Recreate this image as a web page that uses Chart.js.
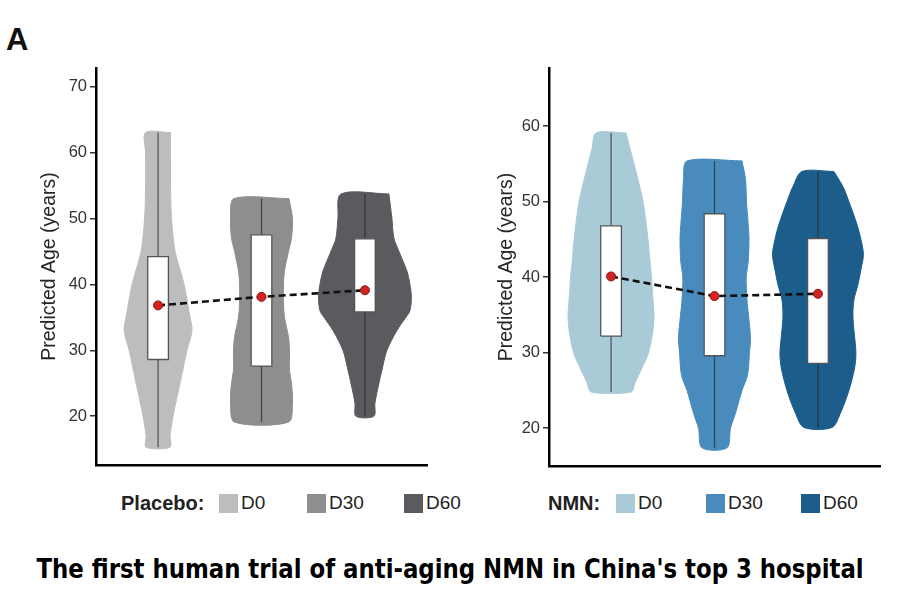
<!DOCTYPE html>
<html lang="en">
<head>
  <meta charset="UTF-8" />
  <title>NMN trial - predicted age</title>
  <script src="https://cdn.jsdelivr.net/npm/chart.js"></script>
  <style>
    body { margin: 0; background: #fff; font-family: "Liberation Sans", Arial, sans-serif; }
    #page { position: relative; width: 900px; height: 608px; overflow: hidden; }
    canvas { position: absolute; top: 0; }
    .panel-label { position: absolute; left: 6px; top: 22px; font-size: 31px; font-weight: bold; color: #111; }
    .legend { position: absolute; top: 492px; font-size: 19px; color: #222; }
    .legend .lab { position: absolute; top: 0; font-weight: bold; font-size: 20px; white-space: nowrap; }
    .legend .sw { position: absolute; top: 2px; width: 19px; height: 19px; }
    .legend .txt { position: absolute; top: 0; }
    .caption { position: absolute; left: 0; width: 900px; top: 553px; text-align: center;
      font-family: "Liberation Sans Narrow", "DejaVu Sans Condensed", sans-serif; font-weight: bold; font-size: 27px; color: #000;
      transform: scaleX(0.94); transform-origin: 451px 0; }
  </style>
</head>
<body>
<div id="page">
  <div class="panel-label">A</div>
  <canvas id="placebo" width="450" height="480" style="left:0"></canvas>
  <canvas id="nmn" width="450" height="480" style="left:450px"></canvas>
  <div class="legend" id="legPlacebo"></div>
  <div class="legend" id="legNmn"></div>
  <div class="caption">The first human trial of anti-aging NMN in China's top 3 hospital</div>
</div>

<script>
  const groups = ['D0', 'D30', 'D60'];

  // Placebo: violin profiles (age level -> density width), box quartiles, means
  const placeboLevels = [
    [63, 60, 55, 50, 45, 40, 35, 33, 30, 25, 20, 17, 15.3],
    [53, 50, 47, 45, 42, 40, 37, 35, 32, 30, 27, 25, 22, 19.1],
    [53.7, 50, 47, 45, 42, 40, 38, 36, 35, 33, 30, 27, 25, 22, 20]
  ];
  const placeboDensity = [
    [12.5, 12.5, 12.5, 13.5, 17, 26, 32, 34, 29, 22, 15, 12, 12],
    [27.5, 31, 30, 27, 23, 22, 22, 23, 27, 28, 28, 30, 31, 27],
    [24, 27, 29, 34, 42, 45, 46.5, 45, 41, 32, 22, 17, 14, 10, 9]
  ];
  const placeboQ1 = [28.6, 27.6, 35.8];
  const placeboQ3 = [44.2, 47.5, 46.9];
  const placeboMean = [36.8, 38.1, 39.1];
  const placeboTicks = [20, 30, 40, 50, 60, 70];

  // NMN
  const nmnLevels = [
    [59.1, 57, 55, 50, 45, 42, 40, 37, 35, 33, 30, 28, 26, 24.8],
    [55.4, 53, 50, 47, 45, 42, 40, 37, 35, 32, 30, 27, 25, 22, 20, 17.4],
    [54, 52, 50, 47, 45, 43, 41, 39, 37, 35, 33, 30, 28, 25, 22, 20.1]
  ];
  const nmnDensity = [
    [15, 19, 23, 32, 37, 39, 40.5, 42, 43, 42, 37.5, 31, 24, 20],
    [27.5, 31, 32, 33.7, 34.5, 33.7, 31.7, 32.5, 34, 36, 35, 33, 27.5, 21, 16, 12.5],
    [16, 25, 31, 39, 43, 45.5, 43, 40, 36, 35, 36, 38, 36.7, 31, 22.5, 14]
  ];
  const nmnQ1 = [32.2, 29.6, 28.6];
  const nmnQ3 = [46.8, 48.4, 45.1];
  const nmnMean = [40.1, 37.5, 37.8];
  const nmnTicks = [20, 30, 40, 50, 60];

  const placeboColors = ['#bdbdbf', '#8e8e91', '#5a5b5e'];
  const nmnColors = ['#a9cbd8', '#4a8bbd', '#1c5d8c'];

  const DENS_TO_X = 1 / 103.5;   // density width -> x units
  const BOX_HALF = 0.1;

  function violinShape(c, levels, dens) {
    const right = levels.map((y, i) => ({ x: c + dens[i] * DENS_TO_X, y }));
    const left = levels.map((y, i) => ({ x: c - dens[i] * DENS_TO_X, y })).reverse();
    return right.concat(left, [right[0]]);
  }

  function buildPanel(id, p) {
    const datasets = [];
    groups.forEach((g, i) => {
      const c = i + 1;
      const lv = p.levels[i];
      datasets.push({
        data: violinShape(c, lv, p.density[i]),
        showLine: true, fill: 'shape', tension: 0.3,
        backgroundColor: p.colors[i], borderColor: p.colors[i], borderWidth: 1,
        pointRadius: 0, order: 10
      });
      datasets.push({
        data: [{ x: c, y: lv[lv.length - 1] }, { x: c, y: lv[0] }],
        showLine: true, borderColor: 'rgba(40,40,40,0.75)', borderWidth: 1.2,
        pointRadius: 0, order: 9
      });
      datasets.push({
        data: [
          { x: c - BOX_HALF, y: p.q1[i] }, { x: c + BOX_HALF, y: p.q1[i] },
          { x: c + BOX_HALF, y: p.q3[i] }, { x: c - BOX_HALF, y: p.q3[i] },
          { x: c - BOX_HALF, y: p.q1[i] }
        ],
        showLine: true, fill: 'shape', tension: 0,
        backgroundColor: '#fff', borderColor: '#555', borderWidth: 1.3,
        pointRadius: 0, order: 8
      });
    });
    const meanPts = p.mean.map((m, i) => ({ x: i + 1, y: m }));
    datasets.push({
      data: meanPts, showLine: true, borderColor: '#111', borderWidth: 2.6,
      borderDash: [7, 4], pointRadius: 0, order: 2
    });
    datasets.push({
      data: meanPts, showLine: false, pointRadius: 4.5,
      backgroundColor: '#d42222', borderColor: '#8e1414', borderWidth: 1, order: 1
    });

    new Chart(document.getElementById(id), {
      type: 'scatter',
      data: { datasets },
      options: {
        responsive: false,
        animation: false,
        layout: { padding: p.padding },
        plugins: { legend: { display: false }, tooltip: { enabled: false } },
        scales: {
          x: {
            type: 'linear', min: 0.4, max: 3.6,
            ticks: { display: false },
            grid: { display: false },
            border: { display: true, color: '#000', width: 2.5 },
            afterFit: s => { s.height = 0; }
          },
          y: {
            min: p.yMin, max: p.yMax,
            afterBuildTicks: s => { s.ticks = p.ticks.map(v => ({ value: v })); },
            ticks: { color: '#333', font: { family: 'Liberation Sans', size: 16.5 }, padding: 3 },
            grid: { drawOnChartArea: false, drawTicks: true, tickLength: 6, color: '#333', lineWidth: 1.5 },
            border: { display: true, color: '#000', width: 2.5 },
            title: { display: true, text: 'Predicted Age (years)', color: '#262626',
                     font: { family: 'Liberation Sans', size: 19.5 } },
            afterFit: s => { s.width = p.yWidth; }
          }
        }
      }
    });
  }

  buildPanel('placebo', {
    levels: placeboLevels, density: placeboDensity, q1: placeboQ1, q3: placeboQ3,
    mean: placeboMean, colors: placeboColors, ticks: placeboTicks,
    yMin: 12.6, yMax: 72.8, yWidth: 62,
    padding: { left: 34, top: 68, right: 23, bottom: 15 }
  });
  buildPanel('nmn', {
    levels: nmnLevels, density: nmnDensity, q1: nmnQ1, q3: nmnQ3,
    mean: nmnMean, colors: nmnColors, ticks: nmnTicks,
    yMin: 15, yMax: 67.7, yWidth: 58,
    padding: { left: 41, top: 68, right: 20, bottom: 14 }
  });

  // legends
  function buildLegend(id, title, colors, x0, swatchX) {
    const el = document.getElementById(id);
    let html = '<span class="lab" style="left:' + x0 + 'px">' + title + '</span>';
    groups.forEach((g, i) => {
      html += '<span class="sw" style="left:' + swatchX[i] + 'px;background:' + colors[i] + '"></span>';
      html += '<span class="txt" style="left:' + (swatchX[i] + 22) + 'px">' + g + '</span>';
    });
    el.innerHTML = html;
  }
  buildLegend('legPlacebo', 'Placebo:', placeboColors, 121, [219, 307, 404]);
  buildLegend('legNmn', 'NMN:', nmnColors, 548, [616, 706, 801]);
</script>
</body>
</html>
